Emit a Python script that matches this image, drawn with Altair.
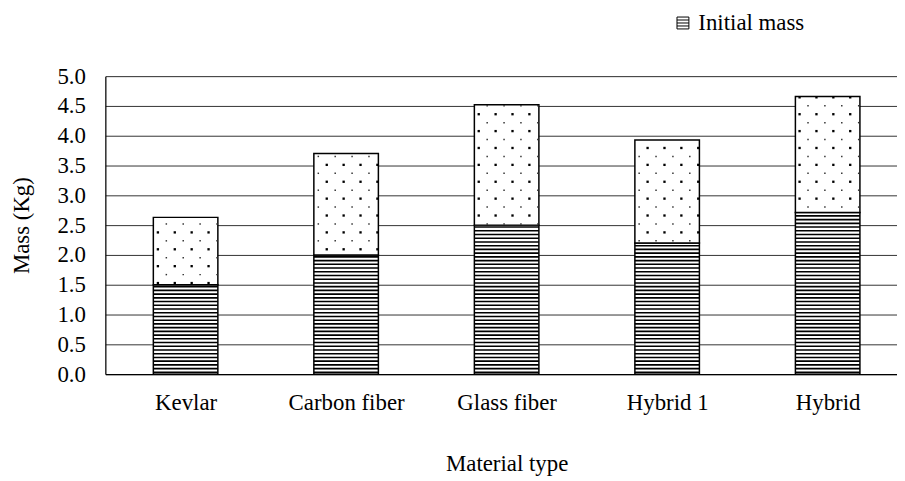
import json
import numpy as np
import pandas as pd
import altair as alt

# ---- data ----
categories = ["Kevlar", "Carbon fiber", "Glass fiber", "Hybrid 1", "Hybrid"]
initial_mass = [1.50, 2.00, 2.50, 2.20, 2.71]
total_mass = [2.63, 3.70, 4.52, 3.93, 4.66]
y_ticks = [0.0, 0.5, 1.0, 1.5, 2.0, 2.5, 3.0, 3.5, 4.0, 4.5, 5.0]
legend_label = "Initial mass"

FONT = "Liberation Serif"
FS = 23
BAR_HALF = 0.201

bars = pd.DataFrame({
    "idx": list(range(len(categories))),
    "category": categories,
    "initial": initial_mass,
    "total": total_mass,
})
bars["series"] = legend_label
bars["left"] = bars["idx"] - BAR_HALF
bars["right"] = bars["idx"] + BAR_HALF
bars["zero"] = 0.0

# texture: horizontal hatching of the lower segment (decoration)
STRIPE_STEP = 0.0625
stripe_rows = []
for _, r in bars.iterrows():
    for y in np.arange(0.03, r["initial"], STRIPE_STEP):
        stripe_rows.append({"left": r["left"], "right": r["right"], "y": float(y)})
stripes = pd.DataFrame(stripe_rows)

# texture: staggered dot pattern of the upper segment (decoration)
DX, DY = 0.1052, 0.2833
X0, Y0 = -0.1726, 1.528
dot_rows = []
for _, r in bars.iterrows():
    for kind, ox, oy in (("big", 0.0, 0.0), ("small", DX / 2, DY / 2)):
        for k in range(-6, 50):
            x = X0 + ox + k * DX
            if not (r["left"] + 0.004 <= x <= r["right"] - 0.002):
                continue
            for m in range(-8, 16):
                y = Y0 + oy + m * DY
                if r["initial"] + 0.01 <= y <= r["total"] - 0.005:
                    dot_rows.append({"x": x, "y": y, "kind": kind})
dots = pd.DataFrame(dot_rows)

x_scale = alt.Scale(domain=[-0.5, 4.432], nice=False, zero=False)
y_scale = alt.Scale(domain=[0, 5], nice=False)

label_expr = json.dumps(categories) + "[datum.value]"

x_axis = alt.Axis(
    values=list(range(len(categories))), labelExpr=label_expr, ticks=False, grid=False,
    labelFlush=False, labelOverlap=False, labelFont=FONT, labelFontSize=FS,
    labelColor="black", labelPadding=18, domainColor="black", domainWidth=1.2,
    title="Material type", titleFont=FONT, titleFontSize=FS, titleFontWeight="normal",
    titleColor="black", titleX=404, titleY=97, titleBaseline="alphabetic",
)
y_axis = alt.Axis(
    values=y_ticks, tickCount=11, format=".1f", ticks=False, grid=True, gridColor="#333333",
    gridWidth=1, labelFont=FONT, labelFontSize=FS, labelColor="black", labelPadding=20,
    labelFlush=False, labelOverlap=False, labelBound=False,
    domainColor="black", domainWidth=1.2,
    title="Mass (Kg)", titleFont=FONT, titleFontSize=FS, titleFontWeight="normal",
    titleColor="black", titleX=-84, titleY=150, titleAngle=-90, titleAlign="center",
    titleBaseline="middle",
)


def X(field):
    return alt.X(field, type="quantitative", scale=x_scale, axis=x_axis)


def Y(field):
    return alt.Y(field, type="quantitative", scale=y_scale, axis=y_axis)


legend_symbol = "M-1,-1H1V1H-1Z M-1,-0.5H1 M-1,0H1 M-1,0.5H1"

lower = alt.Chart(bars).mark_bar(stroke="black", strokeWidth=1.5).encode(
    x=X("left"),
    x2="right:Q",
    y=Y("zero"),
    y2="initial:Q",
    fill=alt.Fill("series:N", scale=alt.Scale(domain=[legend_label], range=["white"]),
                  legend=alt.Legend(title=None, orient="none", legendX=570, legendY=-65,
                                    symbolType=legend_symbol, symbolSize=144,
                                    symbolStrokeColor="black", symbolStrokeWidth=1,
                                    labelFont=FONT, labelFontSize=FS, labelColor="black",
                                    labelOffset=4, padding=0)),
)

hatch = alt.Chart(stripes).mark_rule(color="black", strokeWidth=1.6).encode(
    x=X("left"), x2="right:Q", y=Y("y")
)

upper = alt.Chart(bars).mark_bar(fill="white", stroke="black", strokeWidth=1.5).encode(
    x=X("left"), x2="right:Q", y=Y("initial"), y2="total:Q"
)

big_dots = alt.Chart(dots).transform_filter("datum.kind == 'big'").mark_square(
    size=5.5, color="black", opacity=1
).encode(x=X("x"), y=Y("y"))

small_dots = alt.Chart(dots).transform_filter("datum.kind == 'small'").mark_square(
    size=2.2, color="#333333", opacity=1
).encode(x=X("x"), y=Y("y"))

chart = alt.layer(lower, hatch, upper, big_dots, small_dots).properties(
    width=797, height=300,
    autosize=alt.AutoSizeParams(type="none"),
    padding={"left": 98, "top": 67, "right": 0, "bottom": 105},
).configure_view(stroke=None).configure(background="white")

chart.save("out.html", embed_options={"renderer": "svg", "actions": False})
